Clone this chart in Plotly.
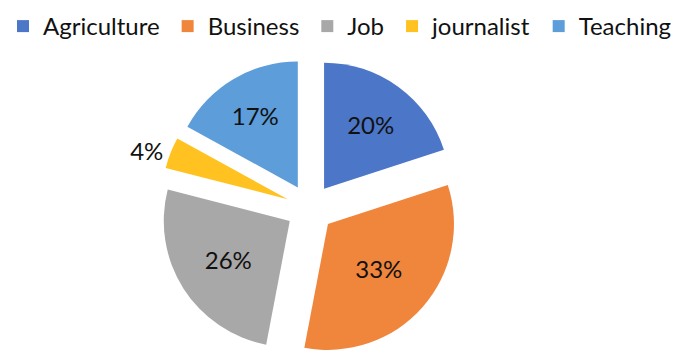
import plotly.graph_objects as go

# Career choice shares (percent)
categories = ["Agriculture", "Business", "Job", "journalist", "Teaching"]
shares = [20, 33, 26, 4, 17]
colors = ["#4C76C8", "#F0853C", "#A8A8A8", "#FFC220", "#5C9DDA"]
text_positions = ["inside", "inside", "inside", "outside", "inside"]

FONT = "Lato"
W, H = 684, 358

fig = go.Figure(
    go.Pie(
        labels=categories,
        values=shares,
        sort=False,
        direction="clockwise",
        rotation=0,
        pull=0.19,
        marker=dict(colors=colors, line=dict(width=0)),
        texttemplate="%{percent:.0%}",
        textposition=text_positions,
        insidetextorientation="horizontal",
        textfont=dict(family=FONT, size=24, color="#111111"),
        insidetextfont=dict(family=FONT, size=24, color="#111111"),
        outsidetextfont=dict(family=FONT, size=24, color="#111111"),
        hoverinfo="label+percent",
        domain=dict(x=[0.2339, 0.6725], y=[0.0, 0.8377]),
    )
)

fig.update_layout(
    width=W,
    height=H,
    margin=dict(l=0, r=0, t=0, b=0, autoexpand=False),
    paper_bgcolor="white",
    plot_bgcolor="white",
    font=dict(family=FONT, color="#111111"),
    showlegend=True,
    legend=dict(
        orientation="h",
        x=0.0,
        xanchor="left",
        y=0.9888,
        yanchor="top",
        indentation=3,
        font=dict(family=FONT, size=24, color="#111111"),
        itemwidth=30,
        traceorder="normal",
    ),
)

fig.write_html("out.html")
